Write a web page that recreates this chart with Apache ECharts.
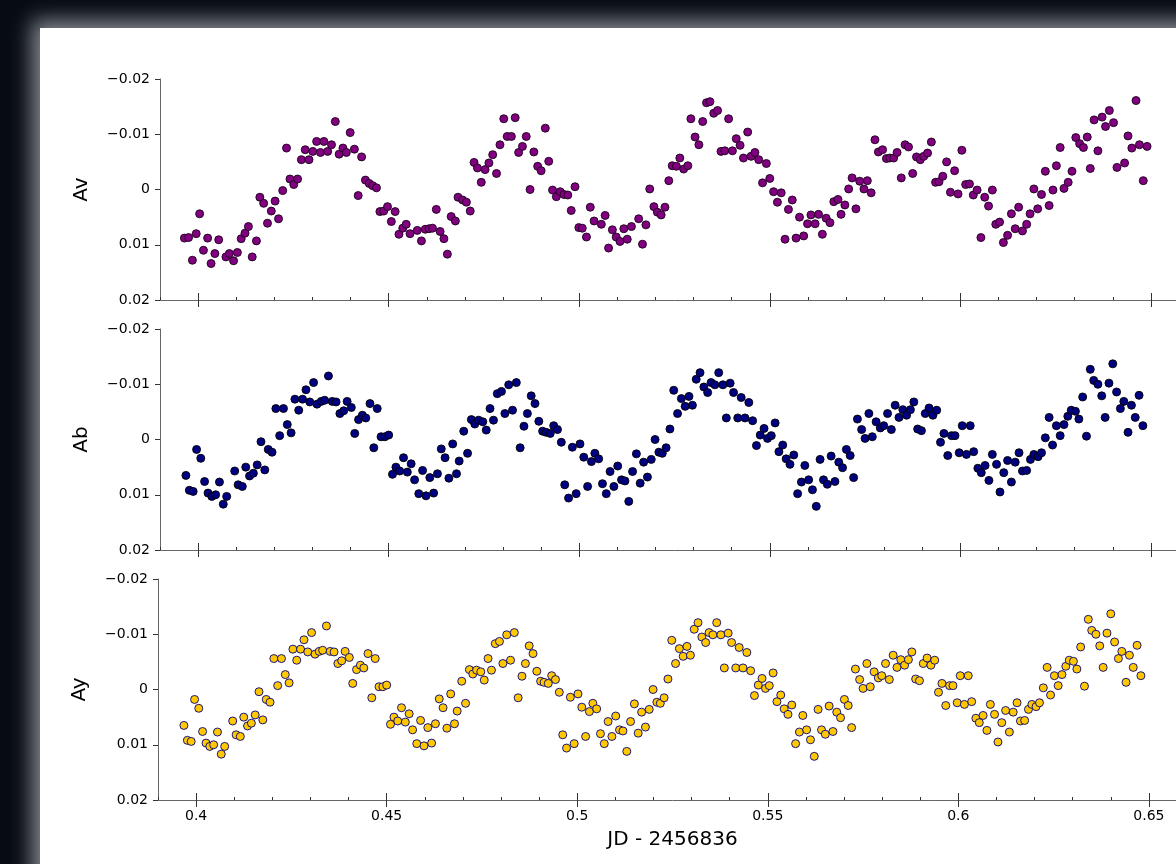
<!DOCTYPE html>
<html>
<head>
<meta charset="utf-8">
<script src="https://cdn.jsdelivr.net/npm/echarts@6/dist/echarts.min.js"></script>
<style>
    html, body { margin: 0; padding: 0; width: 1176px; height: 864px; overflow: hidden; background: #070b12; }
    #frame { position: absolute; left: 40px; top: 28px; width: 1200px; height: 900px; background: #fff;
             box-shadow: 0 0 20px 8px rgba(175, 180, 188, 0.75); }
    #chart { position: absolute; left: 0; top: 0; width: 1200px; height: 864px; }
</style>
</head>
<body>
<div id="frame"></div>
<div id="chart"></div>
<script>
// JD - 2456836 and magnitude offsets
const avJD = [
    0.3964, 0.3975, 0.3985, 0.3995, 0.4004, 0.4014, 0.4025, 0.4034, 0.4044, 0.4054,
    0.4073, 0.4082, 0.4093, 0.4103, 0.4113, 0.4123, 0.4132, 0.4142, 0.4153, 0.4162,
    0.4172, 0.4182, 0.4192, 0.4202, 0.4211, 0.4222, 0.4232, 0.4241, 0.4251, 0.4261,
    0.4271, 0.4281, 0.4291, 0.4301, 0.4311, 0.4321, 0.4330, 0.4340, 0.4350, 0.4360,
    0.4370, 0.4380, 0.4389, 0.4399, 0.4410, 0.4420, 0.4429, 0.4439, 0.4449, 0.4458,
    0.4468, 0.4477, 0.4487, 0.4497, 0.4507, 0.4517, 0.4527, 0.4537, 0.4546, 0.4556,
    0.4575, 0.4586, 0.4596, 0.4606, 0.4615, 0.4625, 0.4635, 0.4645, 0.4654, 0.4664,
    0.4675, 0.4682,
    0.4694, 0.4704, 0.4714, 0.4724, 0.4733, 0.4743, 0.4753, 0.4763, 0.4773, 0.4783,
    0.4792, 0.4802, 0.4811, 0.4822, 0.4832, 0.4841, 0.4851, 0.4861, 0.4871, 0.4881,
    0.4891, 0.4900, 0.4911, 0.4920, 0.4930, 0.4940, 0.4950, 0.4960, 0.4970, 0.4979,
    0.4989, 0.4999, 0.5008, 0.5019, 0.5029, 0.5039, 0.5058, 0.5068, 0.5077, 0.5087,
    0.5097, 0.5107, 0.5117, 0.5126, 0.5137, 0.5156, 0.5166, 0.5175, 0.5185, 0.5196,
    0.5205, 0.5215, 0.5225, 0.5235, 0.5244, 0.5255, 0.5264, 0.5274, 0.5285, 0.5293,
    0.5304, 0.5314, 0.5324, 0.5334, 0.5343, 0.5353, 0.5363, 0.5372, 0.5382, 0.5392,
    0.5402, 0.5412, 0.5422, 0.5431, 0.5442, 0.5451, 0.5461, 0.5471, 0.5481, 0.5491,
    0.5500, 0.5510, 0.5520, 0.5530, 0.5540, 0.5549, 0.5559, 0.5569, 0.5578, 0.5589,
    0.5599, 0.5608, 0.5619, 0.5628, 0.5638, 0.5648, 0.5658, 0.5668, 0.5679, 0.5687,
    0.5697, 0.5707, 0.5716, 0.5726, 0.5736, 0.5747, 0.5756, 0.5766, 0.5776, 0.5785,
    0.5796, 0.5806, 0.5815, 0.5825, 0.5834, 0.5845, 0.5855, 0.5864, 0.5875, 0.5885,
    0.5895, 0.5904, 0.5914, 0.5924, 0.5935, 0.5944, 0.5954, 0.5964, 0.5974, 0.5985,
    0.5994, 0.6004, 0.6014, 0.6024, 0.6034, 0.6044, 0.6054, 0.6064, 0.6074, 0.6084,
    0.6093, 0.6103, 0.6113, 0.6124, 0.6134, 0.6144, 0.6153, 0.6163, 0.6174, 0.6183,
    0.6193, 0.6203, 0.6213, 0.6223, 0.6233, 0.6243, 0.6252, 0.6262, 0.6272, 0.6283,
    0.6293, 0.6303, 0.6313, 0.6323, 0.6333, 0.6341, 0.6351, 0.6361, 0.6372, 0.6381,
    0.6391, 0.6402, 0.6411, 0.6431, 0.6440, 0.6450, 0.6461, 0.6470, 0.6480, 0.6490
];
const avMag = [
    0.0088, 0.0087, 0.0128, 0.0080, 0.0044, 0.0110, 0.0088, 0.0134, 0.0116, 0.0091,
    0.0122, 0.0116, 0.0129, 0.0114, 0.0089, 0.0079, 0.0067, 0.0122, 0.0093, 0.0014,
    0.0025, 0.0061, 0.0039, 0.0021, 0.0053, 0.0002, -0.0075, -0.0019, -0.0009, -0.0019,
    -0.0054, -0.0072, -0.0054, -0.0069, -0.0087, -0.0067, -0.0087, -0.0069, -0.0081, -0.0123,
    -0.0064, -0.0075, -0.0067, -0.0103, -0.0073, 0.0011, -0.0059, -0.0017, -0.0011, -0.0007,
    -0.0003, 0.0040, 0.0039, 0.0031, 0.0058, 0.0040, 0.0081, 0.0070, 0.0063, 0.0080,
    0.0074, 0.0093, 0.0072, 0.0071, 0.0070, 0.0036, 0.0076, 0.0089, 0.0117, 0.0049,
    0.0057, 0.0014,
    0.0019, 0.0023, 0.0039, -0.0049, -0.0039, -0.0013, -0.0036, -0.0048, -0.0063, -0.0029,
    -0.0081, -0.0128, -0.0096, -0.0096, -0.0130, -0.0067, -0.0078, -0.0096, 0.0000, -0.0068,
    -0.0042, -0.0034, -0.0111, -0.0051, 0.0001, 0.0013, 0.0004, 0.0009, 0.0010, 0.0038,
    -0.0005, 0.0069, 0.0070, 0.0086, 0.0032, 0.0057, 0.0063, 0.0047, 0.0106, 0.0073,
    0.0086, 0.0094, 0.0071, 0.0090, 0.0067, 0.0053, 0.0099, 0.0064, -0.0001, 0.0031,
    0.0041, 0.0046, 0.0032, -0.0016, -0.0043, -0.0042, -0.0057, -0.0037, -0.0043, -0.0128,
    -0.0095, -0.0081, -0.0123, -0.0157, -0.0159, -0.0138, -0.0143, -0.0069, -0.0070, -0.0128,
    -0.0070, -0.0092, -0.0080, -0.0057, -0.0104, -0.0060, -0.0067, -0.0054, -0.0012, -0.0047,
    -0.0020, 0.0004, 0.0023, 0.0006, 0.0090, 0.0036, 0.0019, 0.0088, 0.0050, 0.0084,
    0.0062, 0.0046, 0.0062, 0.0045, 0.0081, 0.0052, 0.0060, 0.0022, 0.0018, 0.0045,
    0.0028, -0.0001, -0.0021, 0.0035, -0.0015, -0.0001, -0.0016, 0.0006, -0.0090, -0.0068,
    -0.0072, -0.0056, -0.0057, -0.0057, -0.0067, -0.0021, -0.0081, -0.0077, -0.0029, -0.0059,
    -0.0054, -0.0060, -0.0066, -0.0086, -0.0013, -0.0014, -0.0024, -0.0050, 0.0005, -0.0034,
    0.0008, -0.0071, -0.0009, -0.0010, 0.0010, 0.0001, 0.0087, 0.0014, 0.0030, 0.0001,
    0.0063, 0.0059, 0.0096, 0.0083, 0.0044, 0.0071, 0.0032, 0.0075, 0.0063, 0.0044,
    -0.0001, 0.0035, 0.0009, -0.0033, 0.0029, 0.0001, -0.0043, -0.0076, -0.0002, -0.0013,
    -0.0033, -0.0094, -0.0083, -0.0076, -0.0095, -0.0038, -0.0126, -0.0070, -0.0131, -0.0114,
    -0.0143, -0.0121, -0.0040, -0.0048, -0.0097, -0.0075, -0.0161, -0.0081, -0.0016, -0.0078
];

const abJD = [
    0.3968, 0.3977, 0.3987, 0.3996, 0.4007, 0.4017, 0.4026, 0.4036, 0.4046, 0.4056,
    0.4066, 0.4075, 0.4096, 0.4105, 0.4116, 0.4125, 0.4135, 0.4145, 0.4155, 0.4165,
    0.4175, 0.4184, 0.4194, 0.4204, 0.4214, 0.4224, 0.4234, 0.4244, 0.4254, 0.4264,
    0.4274, 0.4283, 0.4293, 0.4303, 0.4312, 0.4323, 0.4332, 0.4342, 0.4352, 0.4362,
    0.4372, 0.4382, 0.4391, 0.4402, 0.4411, 0.4421, 0.4431, 0.4440, 0.4451, 0.4461,
    0.4470, 0.4480, 0.4490, 0.4500, 0.4510, 0.4519, 0.4529, 0.4539, 0.4549, 0.4559,
    0.4568, 0.4579, 0.4589, 0.4598, 0.4608, 0.4618, 0.4628, 0.4638, 0.4648, 0.4658,
    0.4668, 0.4678, 0.4685,
    0.4697, 0.4707, 0.4717, 0.4726, 0.4736, 0.4747, 0.4756, 0.4766, 0.4775, 0.4785,
    0.4796, 0.4805, 0.4815, 0.4825, 0.4835, 0.4845, 0.4855, 0.4864, 0.4874, 0.4884,
    0.4894, 0.4904, 0.4913, 0.4924, 0.4933, 0.4943, 0.4953, 0.4962, 0.4972, 0.4982,
    0.4992, 0.5002, 0.5012, 0.5022, 0.5032, 0.5041, 0.5051, 0.5061, 0.5071, 0.5081,
    0.5091, 0.5101, 0.5111, 0.5120, 0.5130, 0.5140, 0.5150, 0.5160, 0.5169, 0.5179,
    0.5189, 0.5199, 0.5209, 0.5218, 0.5228, 0.5238, 0.5248, 0.5258, 0.5268, 0.5278,
    0.5288, 0.5297, 0.5307, 0.5317, 0.5327, 0.5337, 0.5346, 0.5356, 0.5366, 0.5377,
    0.5386, 0.5396, 0.5405, 0.5416, 0.5425, 0.5435, 0.5445, 0.5455, 0.5465, 0.5475,
    0.5485, 0.5494, 0.5504, 0.5514, 0.5524, 0.5534, 0.5543, 0.5553, 0.5563, 0.5573,
    0.5583, 0.5592, 0.5602, 0.5612, 0.5622, 0.5632, 0.5641, 0.5651, 0.5661, 0.5671,
    0.5681, 0.5691,
    0.5701, 0.5711, 0.5720, 0.5730, 0.5741, 0.5750, 0.5760, 0.5769, 0.5779, 0.5790,
    0.5799, 0.5809, 0.5819, 0.5829, 0.5839, 0.5849, 0.5859, 0.5869, 0.5878, 0.5888,
    0.5898, 0.5908, 0.5918, 0.5928, 0.5938, 0.5948, 0.5957, 0.5967, 0.5977, 0.5986,
    0.5997, 0.6005, 0.6016, 0.6026, 0.6035, 0.6046, 0.6055, 0.6065, 0.6075, 0.6084,
    0.6095, 0.6104, 0.6114, 0.6124, 0.6134, 0.6144, 0.6154, 0.6163, 0.6174, 0.6184,
    0.6193, 0.6204, 0.6213, 0.6223, 0.6233, 0.6242, 0.6252, 0.6262, 0.6272, 0.6282,
    0.6291, 0.6302, 0.6311, 0.6321, 0.6331, 0.6341, 0.6350, 0.6361, 0.6371, 0.6380,
    0.6390, 0.6400, 0.6410, 0.6420, 0.6429, 0.6440, 0.6449, 0.6459, 0.6469, 0.6479
];
const abMag = [
    0.0065, 0.0092, 0.0094, 0.0018, 0.0034, 0.0076, 0.0097, 0.0103, 0.0100, 0.0077,
    0.0117, 0.0103, 0.0057, 0.0082, 0.0085, 0.0050, 0.0066, 0.0061, 0.0046, 0.0004,
    0.0055, 0.0018, 0.0023, -0.0056, -0.0007, -0.0056, -0.0027, -0.0012, -0.0073, -0.0053,
    -0.0073, -0.0090, -0.0068, -0.0103, -0.0064, -0.0069, -0.0071, -0.0115, -0.0069, -0.0068,
    -0.0047, -0.0052, -0.0069, -0.0058, -0.0011, -0.0036, -0.0044, -0.0039, -0.0065, 0.0015,
    -0.0056, -0.0005, -0.0005, -0.0008, 0.0063, 0.0050, 0.0057, 0.0033, 0.0059, 0.0044,
    0.0073, 0.0098, 0.0056, 0.0102, 0.0069, 0.0097, 0.0062, 0.0017, 0.0033, 0.0070,
    0.0008, 0.0062, 0.0039,
    -0.0015, 0.0025, -0.0036, -0.0028, -0.0035, -0.0032, -0.0017, -0.0056, -0.0035, -0.0083,
    -0.0087, -0.0047, -0.0099, -0.0053, -0.0103, 0.0015, -0.0024, -0.0047, -0.0079, -0.0065,
    -0.0033, -0.0015, -0.0013, -0.0011, -0.0025, -0.0018, 0.0005, 0.0082, 0.0106, 0.0014,
    0.0098, 0.0008, 0.0032, 0.0085, 0.0040, 0.0025, 0.0035, 0.0080, 0.0098, 0.0058,
    0.0085, 0.0048, 0.0073, 0.0075, 0.0112, 0.0058, 0.0026, 0.0079, 0.0041, 0.0068,
    0.0036, 0.0000, 0.0023, 0.0025, 0.0015, -0.0019, -0.0089, -0.0047, -0.0074, -0.0060,
    -0.0078, -0.0062, -0.0109, -0.0121, -0.0095, -0.0085, -0.0103, -0.0099, -0.0121, -0.0099,
    -0.0039, -0.0102, -0.0085, -0.0039, -0.0076, -0.0039, -0.0067, -0.0034, 0.0011, -0.0008,
    -0.0020, -0.0002, -0.0007, -0.0030, 0.0022, 0.0010, 0.0035, 0.0045, 0.0028, 0.0098,
    0.0077, 0.0047, 0.0073, 0.0091, 0.0121, 0.0036, 0.0073, 0.0081, 0.0030, 0.0076,
    0.0041, 0.0051,
    0.0018, 0.0029, 0.0069, -0.0037, -0.0018, -0.0002, -0.0047, -0.0005, -0.0032, -0.0021,
    -0.0025, -0.0047, -0.0018, -0.0062, -0.0040, -0.0054, -0.0044, -0.0054, -0.0068, -0.0019,
    -0.0016, -0.0047, -0.0057, -0.0044, -0.0053, 0.0005, -0.0011, 0.0029, -0.0007, -0.0007,
    0.0024, -0.0025, 0.0027, -0.0025, 0.0022, 0.0052, 0.0060, 0.0047, 0.0074, 0.0027,
    0.0045, 0.0095, 0.0060, 0.0038, 0.0077, 0.0041, 0.0024, 0.0057, 0.0056, 0.0036,
    0.0027, 0.0031, 0.0024, -0.0003, -0.0040, 0.0010, -0.0025, -0.0007, -0.0027, -0.0042,
    -0.0053, -0.0051, -0.0037, -0.0077, -0.0006, -0.0127, -0.0107, -0.0100, -0.0079, -0.0040,
    -0.0102, -0.0137, -0.0086, -0.0056, -0.0069, -0.0013, -0.0062, -0.0040, -0.0080, -0.0025
];

// the Ay panel shows the very same points as Ab
const ayJD = abJD;
const ayMag = abMag;

const majorTicks = [0.4, 0.45, 0.5, 0.55, 0.6, 0.65];
const minorTicks = [0.39, 0.41, 0.42, 0.43, 0.44, 0.46, 0.47, 0.48, 0.49, 0.51, 0.52, 0.53, 0.54,
                    0.56, 0.57, 0.58, 0.59, 0.61, 0.62, 0.63, 0.64, 0.66];
const panelNames = ["Av", "Ab", "Ay"];
const xName = "JD - 2456836";

const FONT = "DejaVu Sans";
const X_MIN = 0.39;
const X_MAX = 0.66;

const panels = [
    { name: panelNames[0], x: avJD, y: avMag, fill: "#800080", edge: "#1a001a", top: 79, left: 160 },
    { name: panelNames[1], x: abJD, y: abMag, fill: "#000080", edge: "#000000", top: 329, left: 160 },
    { name: panelNames[2], x: ayJD, y: ayMag, fill: "#ffc800", edge: "#000080", top: 579, left: 158 },
];

const fmtY = (v) => {
    if (Math.abs(v) < 1e-9) return "0";
    const s = Math.abs(v).toFixed(2);
    return v < 0 ? "\u2212" + s : s;
};

const grid = [];
const xAxis = [];
const yAxis = [];
const series = [];

panels.forEach((p, i) => {
    const last = i === panels.length - 1;
    grid.push({ left: p.left, top: p.top, width: 1029, height: 221 });

    // main x axis: line, outward major ticks, labels on the last panel
    xAxis.push({
        gridIndex: i, type: "value", min: X_MIN, max: X_MAX,
        name: last ? xName : "", nameLocation: "middle", nameGap: 30,
        nameTextStyle: { fontFamily: FONT, fontSize: 20, color: "#000" },
        axisLine: { show: true, onZero: false, lineStyle: { color: "#666", width: 1 } },
        axisTick: { show: true, customValues: majorTicks, length: 7, lineStyle: { color: "#333" } },
        axisLabel: { show: last, customValues: majorTicks, margin: 9, fontFamily: FONT, fontSize: 14, color: "#000",
                     formatter: (v) => String(+v.toFixed(2)) },
        splitLine: { show: false },
    });
    // inner half of the major ticks
    xAxis.push({
        gridIndex: i, type: "value", min: X_MIN, max: X_MAX, position: "bottom",
        axisLine: { show: false, onZero: false },
        axisTick: { show: true, inside: true, customValues: majorTicks, length: 7, lineStyle: { color: "#333" } },
        axisLabel: { show: false }, splitLine: { show: false },
    });
    // minor ticks, inside
    xAxis.push({
        gridIndex: i, type: "value", min: X_MIN, max: X_MAX, position: "bottom",
        axisLine: { show: false, onZero: false },
        axisTick: { show: true, inside: true, customValues: minorTicks, length: 3, lineStyle: { color: "#333" } },
        axisLabel: { show: false }, splitLine: { show: false },
    });

    yAxis.push({
        gridIndex: i, type: "value", inverse: true, min: -0.02, max: 0.02, interval: 0.01,
        name: p.name, nameLocation: "middle", nameGap: 68, nameRotate: 90,
        nameTextStyle: { fontFamily: FONT, fontSize: 20, color: "#000" },
        axisLine: { show: true, onZero: false, lineStyle: { color: "#666", width: 1 } },
        axisTick: { show: true, length: 5, lineStyle: { color: "#333" } },
        axisLabel: { margin: 10, fontFamily: FONT, fontSize: 14, color: "#000", formatter: fmtY },
        splitLine: { show: false },
    });

    series.push({
        type: "scatter",
        name: p.name,
        xAxisIndex: i * 3,
        yAxisIndex: i,
        data: p.x.map((jd, k) => [jd, p.y[k]]),
        symbol: "circle",
        symbolSize: 8,
        itemStyle: { color: p.fill, borderColor: p.edge, borderWidth: 0.9, opacity: 1 },
        emphasis: { disabled: true },
        animation: false,
    });
});

const chart = echarts.init(document.getElementById("chart"), null, { renderer: "canvas" });
chart.setOption({
    animation: false,
    backgroundColor: "transparent",
    textStyle: { fontFamily: FONT },
    grid,
    xAxis,
    yAxis,
    series,
});
</script>
</body>
</html>
